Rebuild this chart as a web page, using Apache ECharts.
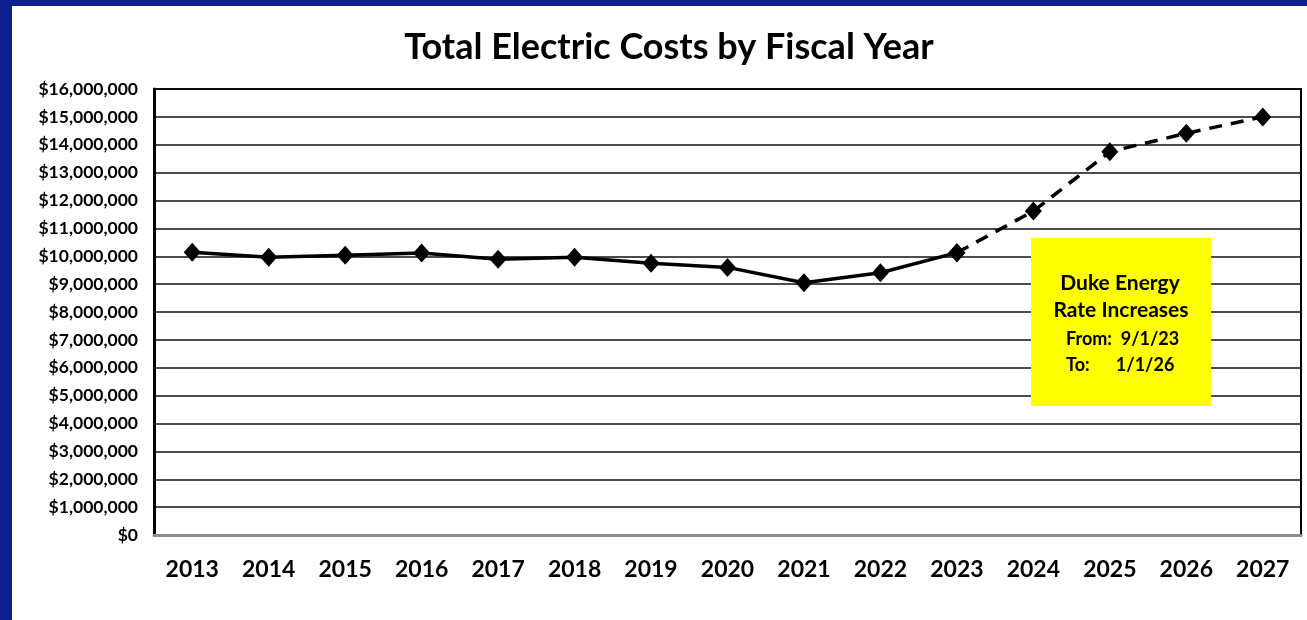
<!DOCTYPE html>
<html>
<head>
<meta charset="utf-8">
<script src="https://cdn.jsdelivr.net/npm/echarts@6/dist/echarts.min.js"></script>
<style>
html,body{margin:0;padding:0;background:#fff;}
#chart{width:1307px;height:620px;}
</style>
</head>
<body>
<div id="chart"></div>
<script>
var years = ['2013','2014','2015','2016','2017','2018','2019','2020','2021','2022','2023','2024','2025','2026','2027'];
var actualCosts = [10140000, 9960000, 10040000, 10120000, 9890000, 9960000, 9750000, 9600000, 9050000, 9410000, 10130000, null, null, null, null];
var projectedCosts = [null, null, null, null, null, null, null, null, null, null, 10130000, 11620000, 13750000, 14410000, 15000000];
var titleText = 'Total Electric Costs by Fiscal Year';
var noteLines = ['Duke Energy', 'Rate Increases', 'From:  9/1/23', 'To:      1/1/26'];

var FONT = 'Lato';
var chart = echarts.init(document.getElementById('chart'));
chart.setOption({
  backgroundColor: '#ffffff',
  animation: false,
  title: {
    text: titleText,
    left: 664, top: 24, textAlign: 'center',
    textStyle: {fontFamily: FONT, fontWeight: 'bold', fontSize: 36, color: '#000'}
  },
  grid: {
    left: 154, top: 89, right: 6, bottom: 85,
    show: true, borderColor: '#000', borderWidth: 2, backgroundColor: '#fff'
  },
  xAxis: {
    type: 'category',
    data: years,
    boundaryGap: true,
    axisLine: {show: true, lineStyle: {color: '#8c8c8c', width: 3}},
    axisTick: {show: false},
    axisLabel: {margin: 23, fontFamily: FONT, fontWeight: 'bold', fontSize: 23, color: '#000'},
    splitLine: {show: false}
  },
  yAxis: {
    type: 'value',
    min: 0, max: 16000000, interval: 1000000,
    axisLine: {show: true, lineStyle: {color: '#000', width: 3}},
    axisTick: {show: false},
    axisLabel: {
      margin: 16, fontFamily: FONT, fontWeight: 'bold', fontSize: 17.5, color: '#000',
      formatter: function (v) { return '$' + v.toLocaleString('en-US'); }
    },
    splitLine: {show: true, lineStyle: {color: '#111', width: 1.5}}
  },
  graphic: [
    {type: 'rect', shape: {x: 0, y: 0, width: 1307, height: 6}, style: {fill: '#0b1f8e'}, z: 100},
    {type: 'rect', shape: {x: 0, y: 0, width: 12, height: 620}, style: {fill: '#0b1f8e'}, z: 100},
    {type: 'rect', shape: {x: 1031, y: 238, width: 180, height: 168}, style: {fill: '#ffff00'}, z: 50},
    {type: 'text', x: 1120, y: 283, z: 51, style: {text: noteLines[0], fill: '#000', font: 'bold 21px Lato', textAlign: 'center', textVerticalAlign: 'middle'}},
    {type: 'text', x: 1121, y: 310, z: 51, style: {text: noteLines[1], fill: '#000', font: 'bold 21px Lato', textAlign: 'center', textVerticalAlign: 'middle'}},
    {type: 'text', x: 1066, y: 339, z: 51, style: {text: noteLines[2], fill: '#000', font: 'bold 18px Lato', textAlign: 'left', textVerticalAlign: 'middle'}},
    {type: 'text', x: 1066, y: 365, z: 51, style: {text: noteLines[3], fill: '#000', font: 'bold 18px Lato', textAlign: 'left', textVerticalAlign: 'middle'}}
  ],
  series: [
    {
      name: 'Actual', type: 'line', data: actualCosts,
      symbol: 'diamond', symbolSize: [17, 19],
      itemStyle: {color: '#000'},
      lineStyle: {color: '#000', width: 3.5},
      z: 10
    },
    {
      name: 'Projected', type: 'line', data: projectedCosts,
      symbol: 'diamond', symbolSize: [17, 19],
      itemStyle: {color: '#000'},
      lineStyle: {color: '#000', width: 3.5, type: [13, 9]},
      z: 9
    }
  ]
});
</script>
</body>
</html>
